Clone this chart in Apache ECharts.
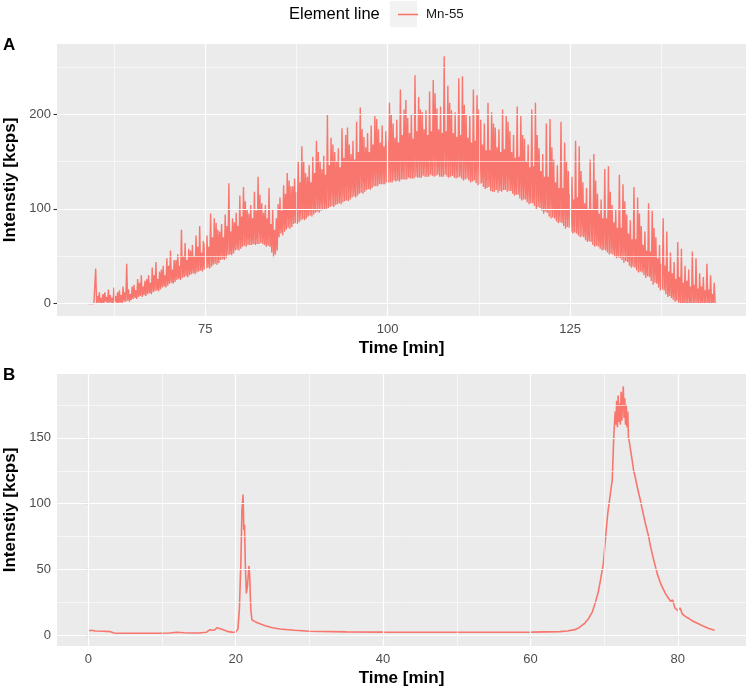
<!DOCTYPE html>
<html>
<head>
<meta charset="utf-8">
<script src="https://cdn.jsdelivr.net/npm/echarts@6/dist/echarts.min.js"></script>
<style>
  html, body { margin: 0; padding: 0; background: #fff; }
  #chart { width: 748px; height: 688px; }
</style>
</head>
<body>
<div id="chart"></div>
<script>
// panel A: one reading every 0.125 min starting at 59.0 min (one row per minute)
const startA = 59.0;
const stepA = 0.125;
const intensityA = [
  0, 0, 0, 0, 0, 0, 0, 0,
  37, 0, 8, 1, 12, 0, 6, 0,
  10, 0, 12, 2, 7, 0, 15, 1,
  9, 1, 6, 0, 17, 2, 8, 0,
  12, 0, 14, 1, 9, 0, 18, 2,
  12, 2, 42, 3, 15, 2, 10, 4,
  18, 5, 20, 6, 14, 5, 26, 7,
  22, 8, 30, 7, 18, 9, 24, 8,
  26, 10, 30, 11, 22, 10, 38, 12,
  30, 13, 44, 14, 26, 13, 34, 15,
  36, 17, 40, 18, 30, 17, 48, 19,
  40, 21, 56, 22, 36, 21, 46, 23,
  46, 25, 52, 26, 40, 25, 78, 27,
  50, 28, 64, 29, 46, 28, 58, 30,
  56, 31, 62, 32, 50, 31, 72, 33,
  60, 34, 82, 35, 54, 34, 66, 36,
  64, 37, 72, 38, 60, 37, 95, 39,
  70, 41, 90, 42, 85, 41, 78, 43,
  76, 46, 84, 47, 70, 46, 94, 48,
  82, 51, 127, 52, 76, 51, 90, 53,
  86, 56, 96, 57, 82, 56, 114, 58,
  92, 60, 123, 61, 108, 60, 100, 62,
  95, 62, 104, 62, 90, 63, 118, 62,
  98, 63, 134, 63, 115, 64, 106, 63,
  96, 62, 104, 60, 90, 61, 122, 60,
  84, 54, 100, 49, 78, 52, 90, 56,
  105, 70, 112, 74, 98, 72, 125, 76,
  116, 78, 138, 80, 130, 79, 124, 81,
  124, 84, 132, 85, 118, 84, 150, 86,
  128, 88, 166, 89, 150, 88, 138, 90,
  134, 92, 146, 93, 128, 92, 155, 94,
  138, 96, 172, 97, 160, 96, 150, 98,
  142, 99, 156, 100, 136, 99, 200, 101,
  146, 102, 175, 103, 168, 102, 160, 104,
  150, 105, 164, 106, 144, 105, 185, 107,
  154, 108, 178, 109, 186, 108, 168, 110,
  158, 112, 172, 113, 152, 112, 192, 114,
  160, 116, 207, 117, 184, 116, 176, 118,
  165, 120, 180, 121, 160, 120, 188, 122,
  168, 124, 198, 124, 195, 124, 184, 126,
  170, 126, 188, 126, 166, 126, 182, 128,
  172, 128, 212, 128, 200, 128, 190, 130,
  175, 129, 194, 130, 170, 129, 226, 131,
  178, 131, 205, 131, 215, 131, 196, 133,
  180, 132, 200, 132, 174, 132, 241, 134,
  182, 133, 218, 133, 205, 133, 202, 135,
  184, 134, 204, 134, 178, 134, 224, 136,
  182, 135, 236, 134, 222, 135, 206, 136,
  184, 134, 208, 134, 180, 134, 261, 136,
  182, 134, 230, 133, 212, 134, 204, 135,
  180, 133, 202, 132, 176, 133, 238, 134,
  178, 132, 240, 130, 210, 131, 200, 132,
  175, 130, 198, 128, 170, 129, 226, 130,
  172, 127, 220, 125, 205, 126, 194, 127,
  168, 123, 190, 121, 162, 122, 212, 123,
  162, 119, 202, 118, 190, 118, 186, 120,
  165, 117, 184, 119, 160, 118, 205, 120,
  163, 120, 198, 118, 192, 119, 182, 119,
  160, 116, 178, 114, 154, 115, 208, 115,
  155, 111, 198, 109, 178, 110, 174, 110,
  150, 107, 168, 105, 144, 106, 205, 106,
  145, 103, 212, 100, 178, 102, 164, 101,
  140, 98, 158, 95, 134, 97, 190, 96,
  134, 92, 195, 90, 165, 91, 152, 90,
  128, 87, 146, 85, 122, 86, 192, 85,
  122, 82, 170, 79, 150, 81, 140, 80,
  116, 76, 134, 74, 110, 75, 172, 74,
  112, 72, 166, 70, 140, 71, 128, 70,
  106, 67, 122, 65, 100, 66, 152, 65,
  100, 62, 158, 60, 130, 61, 116, 60,
  95, 58, 110, 56, 90, 57, 142, 56,
  90, 54, 145, 52, 118, 53, 104, 52,
  86, 50, 100, 48, 80, 49, 136, 48,
  80, 46, 126, 43, 108, 45, 94, 44,
  74, 40, 88, 38, 68, 39, 123, 38,
  68, 35, 112, 33, 95, 34, 82, 33,
  62, 30, 76, 27, 56, 29, 106, 28,
  55, 24, 98, 20, 80, 22, 70, 21,
  48, 17, 62, 14, 42, 15, 90, 14,
  40, 10, 76, 7, 34, 8, 54, 6,
  32, 4, 44, 2, 26, 3, 65, 1,
  28, 0, 58, 0, 22, 0, 40, 0,
  24, 0, 36, 0, 18, 0, 55, 0,
  20, 0, 48, 0, 16, 0, 32, 0,
  18, 0, 28, 0, 14, 0, 42, 0,
  15, 0, 30, 0, 10, 0, 22, 0
];

// panel B
const timeB = [
  0, 0.3, 1, 2, 3, 3.5, 4, 6, 8, 10, 11, 12, 13, 14, 15, 16, 16.5, 16.8, 17.1, 17.5,
  17.7, 18, 18.5, 19, 19.5, 20, 20.3, 20.5, 20.7, 20.85, 21.0, 21.1, 21.2, 21.3, 21.45, 21.6,
  21.8, 21.9, 22.05, 22.2, 22.5, 23, 24, 25, 26, 28, 30, 35, 40, 45, 50, 55, 60, 62, 64,
  65, 66, 66.6, 67.3, 67.9, 68.4, 68.8, 69.2, 69.5, 69.9, 70.2, 70.5, 70.9, 71.1, 71.3,
  71.5, 71.6, 71.7, 71.8, 71.9, 72.0, 72.1, 72.2, 72.3, 72.4, 72.5, 72.6, 72.7, 72.8, 72.9,
  73.0, 73.1, 73.2, 73.3, 73.45, 73.6, 73.8, 74.0, 74.15, 74.3, 74.6, 74.9, 75.2, 75.6,
  76.0, 76.3, 76.7, 77.2, 77.7, 78.3, 79.0, 79.3, 79.6, 80.0, 80.3, 80.6, 81, 81.5, 82,
  82.8, 83.5, 84.2, 85
];
const intensityB = [
  3.5, 4, 3.5, 3.3, 3, 2, 1.8, 1.8, 1.8, 1.8, 2, 2.5, 2.2, 2, 2, 2.5, 4.5, 4, 4.2, 6,
  7, 5, 4, 3, 2.6, 2.5, 5, 20, 55, 95, 107, 80, 84, 55, 32, 38,
  53, 45, 20, 12, 11, 9.5, 7.5, 6, 5, 4, 3.3, 2.8, 2.6, 2.5, 2.5, 2.5, 2.6, 2.8, 3,
  3.5, 4.5, 6, 9, 13, 18, 25, 33, 42, 55, 75, 93, 110, 118, 150,
  170, 160, 178, 158, 182, 162, 176, 160, 185, 163, 178, 189, 165, 180, 160,
  175, 158, 170, 150, 146, 140, 133, 125, 122, 118, 110, 103, 95, 85,
  76, 67.5, 58, 47, 39, 32, 26, 27, 21, 19, 21, 16.5, 14.6, 13, 11,
  9, 7, 5.3, 4
];

const ticksAx = [75, 100, 125];
const minorAx = [62.5, 87.5, 112.5, 137.5];
const ticksAy = [0, 100, 200];
const minorAy = [50, 150, 250];
const ticksBx = [0, 20, 40, 60, 80];
const minorBx = [10, 30, 50, 70];
const ticksBy = [0, 50, 100, 150];
const minorBy = [25, 75, 125, 175];

const RED = '#F8766D';
const FONT = '"Liberation Sans", Arial, sans-serif';

const seriesA = intensityA.map((v, i) => [startA + i * stepA, v]);
const seriesB = timeB.map((t, i) => [t, intensityB[i]]);

function gridLines(xs, xm, ys, ym) {
  const line = (key, v, w) => ({ [key]: v, lineStyle: { width: w } });
  return [
    ...xm.map(v => line('xAxis', v, 0.6)),
    ...ym.map(v => line('yAxis', v, 0.6)),
    ...xs.map(v => line('xAxis', v, 1.2)),
    ...ys.map(v => line('yAxis', v, 1.2))
  ];
}

function bgSeries(idx, xs, xm, ys, ym) {
  return {
    type: 'line',
    name: 'grid' + idx,
    xAxisIndex: idx,
    yAxisIndex: idx,
    data: [],
    z: 1,
    silent: true,
    markLine: {
      silent: true,
      symbol: ['none', 'none'],
      label: { show: false },
      emphasis: { disabled: true },
      animation: false,
      lineStyle: { color: '#FFFFFF', type: 'solid' },
      data: gridLines(xs, xm, ys, ym)
    }
  };
}

function xAxis(idx, min, max, ticks) {
  return {
    type: 'value',
    gridIndex: idx,
    min: min,
    max: max,
    name: 'Time [min]',
    nameLocation: 'middle',
    nameGap: 24,
    nameTextStyle: { fontSize: 17, fontWeight: 'bold', color: '#000', fontFamily: FONT },
    axisLine: { show: false },
    axisTick: { show: true, length: 3.5, customValues: ticks, lineStyle: { color: '#333', width: 1.1 } },
    axisLabel: { customValues: ticks, color: '#4D4D4D', fontSize: 13, margin: 7, fontFamily: FONT },
    splitLine: { show: false }
  };
}

function yAxis(idx, min, max, ticks) {
  return {
    type: 'value',
    gridIndex: idx,
    min: min,
    max: max,
    name: 'Intenstiy [kcps]',
    nameLocation: 'middle',
    nameGap: 36,
    nameTextStyle: { fontSize: 17, fontWeight: 'bold', color: '#000', fontFamily: FONT },
    axisLine: { show: false },
    axisTick: { show: true, length: 3.5, customValues: ticks, lineStyle: { color: '#333', width: 1.1 } },
    axisLabel: { customValues: ticks, color: '#4D4D4D', fontSize: 13, margin: 6, fontFamily: FONT },
    splitLine: { show: false }
  };
}

const chart = echarts.init(document.getElementById('chart'));
chart.setOption({
  animation: false,
  textStyle: { fontFamily: FONT },
  legend: {
    data: ['Mn-55'],
    left: 393,
    top: 3,
    icon: 'rect',
    itemWidth: 20,
    itemHeight: 1.6,
    selectedMode: false,
    textStyle: { fontSize: 13.3, color: '#1A1A1A', padding: [0, 0, 0, 3] }
  },
  graphic: [
    { type: 'text', left: 289, top: 6, style: { text: 'Element line', fontSize: 16.5, fill: '#000', fontFamily: FONT } },
    { type: 'rect', left: 390, top: 1, shape: { width: 27, height: 26 }, style: { fill: '#F2F2F2' }, z: -1 },
    { type: 'text', left: 3, top: 37, style: { text: 'A', fontSize: 17, fontWeight: 'bold', fill: '#000', fontFamily: FONT } },
    { type: 'text', left: 3, top: 367, style: { text: 'B', fontSize: 17, fontWeight: 'bold', fill: '#000', fontFamily: FONT } }
  ],
  grid: [
    { left: 57, top: 44, width: 689, height: 272, show: true, backgroundColor: '#EBEBEB', borderWidth: 0, outerBoundsMode: 'none' },
    { left: 57, top: 374, width: 689, height: 272, show: true, backgroundColor: '#EBEBEB', borderWidth: 0, outerBoundsMode: 'none' }
  ],
  xAxis: [xAxis(0, 54.7, 149.1, ticksAx), xAxis(1, -4.25, 89.25, ticksBx)],
  yAxis: [yAxis(0, -13.05, 274.05, ticksAy), yAxis(1, -7.9, 198.4, ticksBy)],
  series: [
    bgSeries(0, ticksAx, minorAx, ticksAy, minorAy),
    bgSeries(1, ticksBx, minorBx, ticksBy, minorBy),
    {
      type: 'line', name: 'Mn-55', xAxisIndex: 0, yAxisIndex: 0, z: 3,
      data: seriesA, showSymbol: false, symbol: 'none', sampling: null,
      lineStyle: { color: RED, width: 1.4, join: 'bevel' }, itemStyle: { color: RED }
    },
    {
      type: 'line', name: 'Mn-55', xAxisIndex: 1, yAxisIndex: 1, z: 3,
      data: seriesB, showSymbol: false, symbol: 'none',
      lineStyle: { color: RED, width: 1.6 }, itemStyle: { color: RED }
    }
  ]
});
</script>
</body>
</html>
